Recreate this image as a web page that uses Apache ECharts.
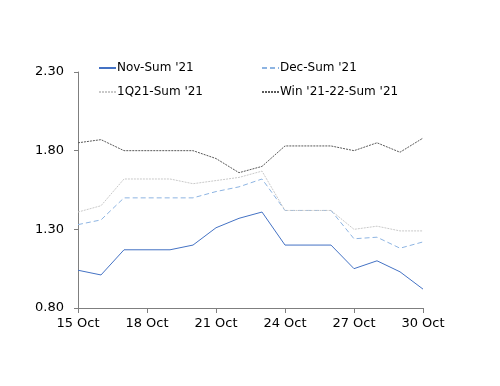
<!DOCTYPE html>
<html><head><meta charset="utf-8">
<script src="https://cdn.jsdelivr.net/npm/echarts@6/dist/echarts.min.js"></script>
<style>html,body{margin:0;padding:0;background:#fff}#c{width:500px;height:386px}</style>
</head><body><div id="c"></div>
<script>
var categories = ['15 Oct','16 Oct','17 Oct','18 Oct','19 Oct','20 Oct','21 Oct','22 Oct','23 Oct','24 Oct','25 Oct','26 Oct','27 Oct','28 Oct','29 Oct','30 Oct'];
var novSum = [1.04,1.01,1.17,1.17,1.17,1.20,1.31,1.37,1.41,1.20,1.20,1.20,1.05,1.10,1.03,0.92];
var decSum = [1.33,1.36,1.50,1.50,1.50,1.50,1.54,1.57,1.62,1.42,1.42,1.42,1.24,1.25,1.18,1.22];
var q1Sum  = [1.41,1.45,1.62,1.62,1.62,1.59,1.61,1.63,1.67,1.42,1.42,1.42,1.30,1.32,1.29,1.29];
var winSum = [1.85,1.87,1.80,1.80,1.80,1.80,1.75,1.66,1.70,1.83,1.83,1.83,1.80,1.85,1.79,1.88];
var yTicks = [0.80,1.30,1.80,2.30];
var seriesNames = ['Nov-Sum \'21','Dec-Sum \'21','1Q21-Sum \'21','Win \'21-22-Sum \'21'];

var font = 'DejaVu Sans';
function mk(name, data, color, type) {
  return {name:name, type:'line', data:data, symbol:'none', animation:false,
    lineStyle:{color:color, width:1, type:type}, itemStyle:{color:color}};
}
function lg(id, left, names) {
  return {id:id, show:true, left:left, top:57, orient:'vertical', itemWidth:17, itemHeight:12, itemGap:12,
    itemStyle:{opacity:0}, selectedMode:false,
    textStyle:{fontFamily:font, fontSize:12, color:'#000', padding:[0,0,0,-4]}, data:names};
}
var chart = echarts.init(document.getElementById('c'), null, {renderer:'canvas'});
chart.setOption({
  animation:false,
  textStyle:{fontFamily:font},
  grid:{left:78, right:77, top:72, bottom:78},
  legend:[ lg('l1', 93, [seriesNames[0], seriesNames[2]]), lg('l2', 256, [seriesNames[1], seriesNames[3]]) ],
  xAxis:{type:'category', data:categories, boundaryGap:false,
    axisLine:{lineStyle:{color:'#7f7f7f', width:1}},
    axisTick:{show:true, interval:2, length:5, lineStyle:{color:'#7f7f7f'}},
    axisLabel:{interval:2, color:'#000', fontSize:13, fontFamily:font, margin:9},
    splitLine:{show:false}},
  yAxis:{type:'value', min:yTicks[0], max:yTicks[yTicks.length-1], interval:yTicks[1]-yTicks[0],
    axisLine:{show:true, lineStyle:{color:'#7f7f7f', width:1}},
    axisTick:{show:true, length:4, lineStyle:{color:'#7f7f7f'}},
    axisLabel:{color:'#000', fontSize:13, fontFamily:font, margin:14, formatter:function(v){return v.toFixed(2);}},
    splitLine:{show:false}},
  series:[
    mk(seriesNames[0], novSum, '#4472c4', 'solid'),
    mk(seriesNames[1], decSum, '#8db4e2', [5,3]),
    mk(seriesNames[2], q1Sum, '#c9c9c9', [2,1]),
    mk(seriesNames[3], winSum, '#595959', [2,1])
  ]
});
</script></body></html>
